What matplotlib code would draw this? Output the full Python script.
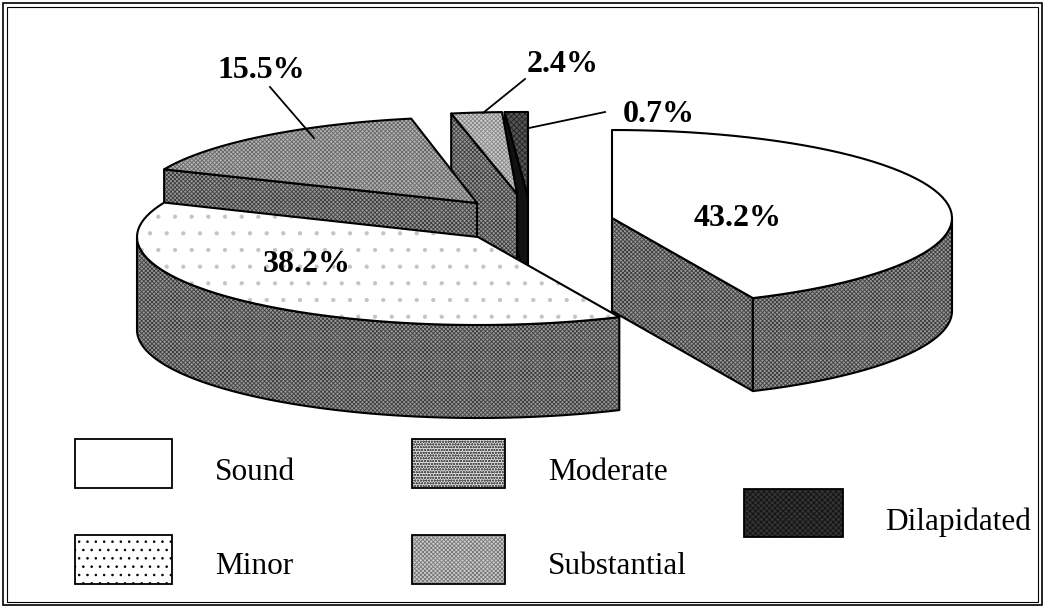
import numpy as np
import matplotlib
matplotlib.use('Agg')
import matplotlib.pyplot as plt
from matplotlib.patches import Polygon, Rectangle

plt.rcParams['font.family'] = ['Liberation Serif', 'DejaVu Serif']
plt.rcParams['hatch.linewidth'] = 0.6

# data
categories = ['Sound', 'Minor', 'Moderate', 'Substantial', 'Dilapidated']
shares = [43.2, 38.2, 15.5, 2.4, 0.7]
labels = ['43.2%', '38.2%', '15.5%', '2.4%', '0.7%']

# layout of each slice in pixels: apex x, apex y, radius x, radius y
geometry = {
    'Sound': (612, 218, 340, 88),
    'Minor': (478, 237, 341, 88),
    'Moderate': (477, 203, 340, 86),
    'Substantial': (517, 194, 340, 82),
    'Dilapidated': (528, 197, 530, 85),
}
depth = 93

top_style = {
    'Sound': ('white', None, 'white'),
    'Minor': ('white', '.', '#c4c4c4'),
    'Moderate': ('#b4b4b4', 'xxxxxxxx', '#666666'),
    'Substantial': ('#cccccc', 'xxxxxxxx', '#888888'),
    'Dilapidated': ('#555555', 'xxxxxx', '#222222'),
}
wall_style = ('#999999', 'xxxxxxxx', '#3c3c3c')
legend_style = {
    'Sound': ('white', None, 'white'),
    'Minor': ('white', '..', 'black'),
    'Moderate': ('#dddddd', 'oooooo', '#555555'),
    'Substantial': ('#cccccc', 'xxxxxxxx', '#777777'),
    'Dilapidated': ('#333333', 'xxxxxx', '#111111'),
}

fig = plt.figure(figsize=(10.47, 6.09), dpi=100)
ax = fig.add_axes([0, 0, 1, 1])
ax.set_xlim(0, 1047)
ax.set_ylim(609, 0)
ax.axis('off')


def point(name, t, drop=0):
    x0, y0, rx, ry = geometry[name]
    t = np.radians(t)
    return x0 + rx * np.sin(t), y0 - ry * np.cos(t) + drop


def arc(name, t0, t1, drop=0):
    ts = np.linspace(t0, t1, 60)
    xs, ys = point(name, ts, drop)
    return np.column_stack([xs, ys])


def shape(pts, style, z):
    face, hatch, hcolor = style
    ax.add_patch(Polygon(pts, closed=True, facecolor=face, hatch=hatch,
                         edgecolor=hcolor, linewidth=0, zorder=z))
    ax.add_patch(Polygon(pts, closed=True, fill=False, edgecolor='black',
                         linewidth=1.5, joinstyle='round', zorder=z + 0.1))


# start and end angle of each slice, clockwise from the top
ends = np.cumsum(shares) * 3.6
starts = ends - np.array(shares) * 3.6
spans = {c: (s, e) for c, s, e in zip(categories, starts, ends)}

# back slices first, front slices over them
order = ['Dilapidated', 'Substantial', 'Moderate', 'Sound', 'Minor']
edge_wall = {'Sound': 1, 'Moderate': 0, 'Substantial': 0, 'Dilapidated': 0}
for i, name in enumerate(order):
    t0, t1 = spans[name]
    z = 2 + i
    apex = np.array(geometry[name][:2], dtype=float)
    if name in edge_wall:
        t = spans[name][edge_wall[name]]
        p = np.array(point(name, t))
        wall = [apex, p, p + [0, depth], apex + [0, depth]]
        st = ('#111111', None, '#111111') if name == 'Dilapidated' else wall_style
        shape(wall, st, z)
    a0 = max(t0, 90)
    a1 = min(t1, 270)
    if a1 > a0:
        top_arc = arc(name, a0, a1)
        low_arc = arc(name, a1, a0, depth)
        shape(np.vstack([top_arc, low_arc]), wall_style, z)
    face = np.vstack([[apex], arc(name, t0, t1)])
    shape(face, top_style[name], z + 0.3)

# leader lines
leaders = [((270, 87), (314, 138)), ((525, 79), (483, 113)), ((605, 112), (529, 128))]
for (xa, ya), (xb, yb) in leaders:
    ax.plot([xa, xb], [ya, yb], color='black', lw=1.3, zorder=10)

# percent labels
label_pos = [(738, 218), (307, 265), (261, 71), (563, 65), (659, 114)]
for txt, (x, y) in zip(labels, label_pos):
    ax.text(x, y, txt, fontsize=23, fontweight='bold', ha='center', va='center', zorder=11)

# legend
legend_boxes = {
    'Sound': (75, 439, 97, 49),
    'Moderate': (412, 439, 93, 49),
    'Minor': (75, 535, 97, 49),
    'Substantial': (412, 535, 93, 49),
    'Dilapidated': (744, 489, 99, 48),
}
legend_text = {
    'Sound': (215, 472),
    'Moderate': (548, 472),
    'Minor': (215, 567),
    'Substantial': (548, 567),
    'Dilapidated': (885, 522),
}
for name, (x, y, w, h) in legend_boxes.items():
    face, hatch, hcolor = legend_style[name]
    ax.add_patch(Rectangle((x, y), w, h, facecolor=face, hatch=hatch,
                           edgecolor=hcolor, linewidth=0))
    ax.add_patch(Rectangle((x, y), w, h, fill=False, edgecolor='black', linewidth=1.3))
    tx, ty = legend_text[name]
    ax.text(tx, ty, name, fontsize=22.5, ha='left', va='center')

# double frame round the chart
ax.add_patch(Rectangle((3, 3), 1039, 602, fill=False, edgecolor='black', linewidth=1.2))
ax.add_patch(Rectangle((7, 7), 1031, 595, fill=False, edgecolor='black', linewidth=0.8))

fig.savefig('out.png', dpi=100)
